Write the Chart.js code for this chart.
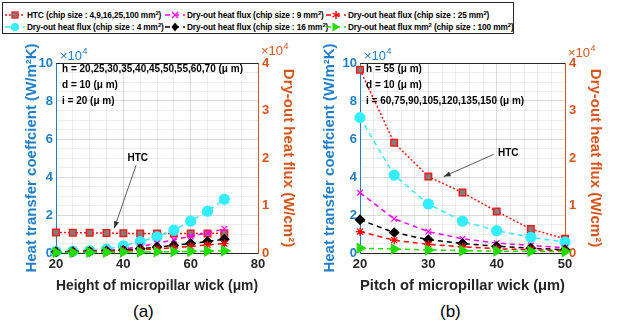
<!DOCTYPE html>
<html lang="en">
<head>
    <meta charset="UTF-8">
    <title>Micropillar wick: HTC and dry-out heat flux</title>
    <script src="https://cdn.jsdelivr.net/npm/chart.js"></script>
    <style>
        body {
            margin: 0;
            width: 622px;
            height: 331px;
            position: relative;
            overflow: hidden;
            background: #fff;
            font-family: "Liberation Sans", Arial, sans-serif;
        }
        .panel { position: absolute; top: 40px; width: 311px; height: 260px; }
        #legend {
            position: absolute; left: 2px; top: 2px; width: 510px; height: 30px;
            border: 1px solid #262626; background: #fff;
        }
        .item { position: absolute; height: 12px; display: flex; align-items: center; white-space: nowrap; }
        .item span { font-size: 8.3px; font-weight: bold; color: #000; margin-left: 2px; letter-spacing: -0.12px; }
        .item sup { font-size: 6px; line-height: 0; vertical-align: 3px; }
        .cap { position: absolute; top: 302px; font-size: 17px; color: #000; }
    </style>
</head>
<body>
    <div id="legend"></div>
    <canvas id="chartA" class="panel" style="left:0" width="311" height="260"></canvas>
    <canvas id="chartB" class="panel" style="left:311px" width="311" height="260"></canvas>
    <div class="cap" style="left:133px">(a)</div>
    <div class="cap" style="left:440px">(b)</div>

    <script>
        // ---- data (HTC in 10^4 W/m^2K, dry-out flux in 10^4 W/cm^2) ----
        const seriesLabels = [
            'HTC (chip size : 4,9,16,25,100 mm²)',
            'Dry-out heat flux (chip size : 4 mm²)',
            'Dry-out heat flux (chip size : 9 mm²)',
            'Dry-out heat flux (chip size : 16 mm²)',
            'Dry-out heat flux (chip size : 25 mm²)',
            'Dry-out heat flux mm² (chip size : 100 mm²)'
        ];

        // (a) height of micropillar wick
        const heightX     = [20, 25, 30, 35, 40, 45, 50, 55, 60, 65, 70];
        const heightHTC   = [1.08, 1.07, 1.06, 1.05, 1.04, 1.02, 1.02, 1.02, 1.03, 1.03, 1.04];
        const heightQ4    = [0.03, 0.04, 0.05, 0.08, 0.15, 0.24, 0.34, 0.48, 0.67, 0.88, 1.13];
        const heightQ9    = [0.02, 0.03, 0.04, 0.055, 0.08, 0.14, 0.20, 0.28, 0.35, 0.42, 0.51];
        const heightQ16   = [0.025, 0.03, 0.035, 0.045, 0.06, 0.09, 0.125, 0.16, 0.20, 0.24, 0.29];
        const heightQ25   = [0.015, 0.02, 0.025, 0.035, 0.05, 0.065, 0.085, 0.11, 0.14, 0.17, 0.20];
        const heightQ100  = [0.01, 0.01, 0.015, 0.015, 0.02, 0.02, 0.025, 0.03, 0.035, 0.04, 0.045];

        // (b) pitch of micropillar wick
        const pitchX      = [20, 25, 30, 35, 40, 45, 50];
        const pitchHTC    = [9.65, 5.8, 4.02, 3.18, 2.19, 1.26, 0.75];
        const pitchQ4     = [2.85, 1.64, 1.03, 0.67, 0.47, 0.33, 0.23];
        const pitchQ9     = [1.27, 0.72, 0.45, 0.30, 0.21, 0.16, 0.11];
        const pitchQ16    = [0.70, 0.43, 0.28, 0.20, 0.14, 0.10, 0.07];
        const pitchQ25    = [0.45, 0.27, 0.18, 0.13, 0.09, 0.07, 0.05];
        const pitchQ100   = [0.10, 0.085, 0.065, 0.05, 0.04, 0.035, 0.03];

        const notesA = ['h = 20,25,30,35,40,45,50,55,60,70 (μ m)', 'd = 10 (μ m)', 'i = 20 (μ m)'];
        const notesB = ['h = 55 (μ m)', 'd = 10 (μ m)', 'i = 60,75,90,105,120,135,150 (μ m)'];

        const BLUE = '#1f7fcc';
        const ORANGE = '#d9541a';
        const INK = '#262626';

        // line / marker look of each series
        const looks = [
            { color: '#ff1a1a', fill: '#7f7f7f', dash: [2, 2], point: 'rect', r: 4.6, rot: 0 },
            { color: '#33eeff', fill: '#33eeff', dash: [5, 4], point: 'circle', r: 5, rot: 0 },
            { color: '#ff00ff', fill: '#ff00ff', dash: [5, 4], point: 'crossRot', r: 4, rot: 0 },
            { color: '#000000', fill: '#000000', dash: [5, 4], point: 'rectRot', r: 4.6, rot: 0 },
            { color: '#ff0000', fill: '#ff0000', dash: [5, 4], point: 'star', r: 4.2, rot: 0 },
            { color: '#22dd00', fill: '#22dd00', dash: [5, 4], point: 'triangle', r: 5.5, rot: 90 }
        ];

        function makeDatasets(xs, series) {
            return series.map((ys, i) => {
                const lk = looks[i];
                return {
                    label: seriesLabels[i],
                    data: xs.map((x, j) => ({ x: x, y: ys[j] })),
                    yAxisID: i === 0 ? 'y' : 'y1',
                    borderColor: lk.color,
                    backgroundColor: lk.fill,
                    borderWidth: 1.5,
                    borderDash: lk.dash,
                    pointStyle: lk.point,
                    pointRadius: lk.r,
                    pointRotation: lk.rot,
                    pointBackgroundColor: lk.fill,
                    pointBorderColor: lk.color,
                    pointBorderWidth: i === 0 ? 1.5 : 1.2,
                    clip: false,
                    order: 5 - i
                };
            });
        }

        // text boxes, HTC arrow, x10^4 exponents and top frame line
        const notesPlugin = {
            id: 'notes',
            afterDraw(chart, args, opts) {
                const { ctx, chartArea: a, scales } = chart;
                ctx.save();
                // top frame
                ctx.strokeStyle = INK;
                ctx.lineWidth = 1;
                ctx.beginPath();
                ctx.moveTo(a.left, a.top + 0.5);
                ctx.lineTo(a.right, a.top + 0.5);
                ctx.stroke();

                // exponents
                const expo = (x, y, color) => {
                    ctx.fillStyle = color;
                    ctx.textBaseline = 'alphabetic';
                    ctx.textAlign = 'left';
                    ctx.font = '13px "Liberation Sans", Arial, sans-serif';
                    ctx.fillText('×10', x, y);
                    const w = ctx.measureText('×10').width;
                    ctx.font = '9px "Liberation Sans", Arial, sans-serif';
                    ctx.fillText('4', x + w + 0.5, y - 6);
                };
                expo(a.left + 4, a.top - 3, BLUE);
                expo(a.right + 3, a.top - opts.orangeLift, ORANGE);

                // parameter text
                ctx.fillStyle = '#000';
                ctx.font = 'bold 10px "Liberation Sans", Arial, sans-serif';
                ctx.textBaseline = 'middle';
                opts.lines.forEach((t, k) => ctx.fillText(t, a.left + 6, a.top + 6.5 + k * 16));

                // HTC label with arrow
                const sx = scales.x, sy = scales.y;
                ctx.textAlign = 'center';
                ctx.fillText('HTC', sx.getPixelForValue(opts.label[0]), sy.getPixelForValue(opts.label[1]));
                const x1 = sx.getPixelForValue(opts.from[0]), y1 = sy.getPixelForValue(opts.from[1]);
                const x2 = sx.getPixelForValue(opts.to[0]), y2 = sy.getPixelForValue(opts.to[1]);
                ctx.strokeStyle = '#333';
                ctx.fillStyle = '#333';
                ctx.lineWidth = 0.8;
                ctx.beginPath();
                ctx.moveTo(x1, y1);
                ctx.lineTo(x2, y2);
                ctx.stroke();
                const ang = Math.atan2(y2 - y1, x2 - x1), L = 7, W = 2.6;
                ctx.beginPath();
                ctx.moveTo(x2, y2);
                ctx.lineTo(x2 - L * Math.cos(ang) + W * Math.sin(ang), y2 - L * Math.sin(ang) - W * Math.cos(ang));
                ctx.lineTo(x2 - L * Math.cos(ang) - W * Math.sin(ang), y2 - L * Math.sin(ang) + W * Math.cos(ang));
                ctx.closePath();
                ctx.fill();
                ctx.restore();
            }
        };

        const tickFont = { family: '"Liberation Sans", Arial, sans-serif', size: 13, weight: 'bold' };
        const titleFont = { family: '"Liberation Sans", Arial, sans-serif', size: 15, weight: 'bold' };
        const isMult = (v, m) => Math.abs(v / m - Math.round(v / m)) < 1e-6;

        function makeChart(canvas, cfg) {
            return new Chart(canvas, {
                type: 'line',
                data: { datasets: makeDatasets(cfg.xs, cfg.series) },
                plugins: [notesPlugin],
                options: {
                    responsive: false,
                    animation: false,
                    layout: { padding: { top: 23, left: 0, right: 0, bottom: 0 } },
                    plugins: {
                        legend: { display: false },
                        tooltip: { enabled: false },
                        notes: cfg.notes
                    },
                    scales: {
                        x: {
                            type: 'linear', min: cfg.xMin, max: cfg.xMax,
                            ticks: {
                                stepSize: cfg.xMinor, autoSkip: false, maxRotation: 0,
                                font: tickFont, color: INK, padding: 4,
                                callback: v => isMult(v, cfg.xMajor) ? v : ''
                            },
                            grid: {
                                drawTicks: false,
                                color: c => isMult(c.tick.value, cfg.xMajor) ? 'rgba(0,0,0,0.14)' : 'rgba(0,0,0,0.07)'
                            },
                            border: { color: INK },
                            title: { display: true, text: cfg.xTitle, font: titleFont, color: INK, padding: { top: 0, bottom: 5 } },
                            afterFit: s => { s.height = 47; }
                        },
                        y: {
                            position: 'left', min: 0, max: 10,
                            ticks: {
                                stepSize: 0.5, autoSkip: false, font: tickFont, color: BLUE, padding: 3,
                                callback: v => isMult(v, 2) ? v : ''
                            },
                            grid: {
                                drawTicks: false,
                                color: c => isMult(c.tick.value, 2) ? 'rgba(0,0,0,0.14)' : 'rgba(0,0,0,0.07)'
                            },
                            border: { color: BLUE },
                            title: { display: true, text: 'Heat transfer coeffcient (W/m²K)', font: titleFont, color: BLUE, padding: { top: cfg.yPad, bottom: 0 } },
                            afterFit: s => { s.width = cfg.yW; }
                        },
                        y1: {
                            position: 'right', min: 0, max: 4,
                            ticks: { stepSize: 1, autoSkip: false, font: tickFont, color: ORANGE, padding: 4 },
                            grid: { drawOnChartArea: false, drawTicks: false },
                            border: { color: ORANGE },
                            title: { display: true, text: 'Dry-out heat flux (W/cm²)', font: titleFont, color: ORANGE, padding: { top: cfg.y1Pad, bottom: 0 } },
                            afterFit: s => { s.width = cfg.y1W; }
                        }
                    }
                }
            });
        }

        makeChart(document.getElementById('chartA'), {
            xs: heightX,
            series: [heightHTC, heightQ4, heightQ9, heightQ16, heightQ25, heightQ100],
            xMin: 20, xMax: 80, xMinor: 5, xMajor: 20,
            xTitle: 'Height of micropillar wick (μm)',
            yW: 56, y1W: 53, yPad: 23, y1Pad: 14,
            notes: { lines: notesA, label: [44.3, 4.97], from: [43.8, 4.63], to: [37.3, 1.3], orangeLift: 8 }
        });

        makeChart(document.getElementById('chartB'), {
            xs: pitchX,
            series: [pitchHTC, pitchQ4, pitchQ9, pitchQ16, pitchQ25, pitchQ100],
            xMin: 20, xMax: 50, xMinor: 2, xMajor: 10,
            xTitle: 'Pitch of micropillar wick (μm)',
            yW: 49, y1W: 57, yPad: 10, y1Pad: 18,
            notes: { lines: notesB, label: [41.7, 5.26], from: [39.6, 5.2], to: [32.25, 4.02], orangeLift: 6 }
        });

        // ---- legend (HTML, two rows, column-major like the figure) ----
        function markerSvg(lk) {
            const c = lk.color, f = lk.fill;
            let m = '';
            if (lk.point === 'rect') m = `<rect x="7" y="3" width="6" height="6" fill="${f}" stroke="${c}" stroke-width="1.3"/>`;
            if (lk.point === 'circle') m = `<circle cx="10" cy="6" r="4" fill="${f}"/>`;
            if (lk.point === 'crossRot') m = `<path d="M7 3L13 9M13 3L7 9" stroke="${c}" stroke-width="1.4"/>`;
            if (lk.point === 'rectRot') m = `<path d="M10 1.5L13.5 6L10 10.5L6.5 6Z" fill="${f}"/>`;
            if (lk.point === 'star') m = `<path d="M10 2V10M6.5 4L13.5 8M13.5 4L6.5 8" stroke="${c}" stroke-width="1.4"/>`;
            if (lk.point === 'triangle') m = `<path d="M6.5 1.5L14 6L6.5 10.5Z" fill="${f}"/>`;
            return `<svg width="20" height="12" viewBox="0 0 20 12">` +
                `<line x1="0" y1="6" x2="20" y2="6" stroke="${c}" stroke-width="1.3" stroke-dasharray="${lk.dash.join(' ')}"/>` +
                m + `</svg>`;
        }

        const legendCols = [2, 162, 323];
        const legendRows = [6, 18];
        const legend = document.getElementById('legend');
        seriesLabels.forEach((label, i) => {
            const item = document.createElement('div');
            item.className = 'item';
            item.style.left = legendCols[Math.floor(i / 2)] + 'px';
            item.style.top = legendRows[i % 2] + 'px';
            item.innerHTML = markerSvg(looks[i]) + `<span>${label.replace(/²/g, '<sup>2</sup>')}</span>`;
            legend.appendChild(item);
        });
    </script>
</body>
</html>
